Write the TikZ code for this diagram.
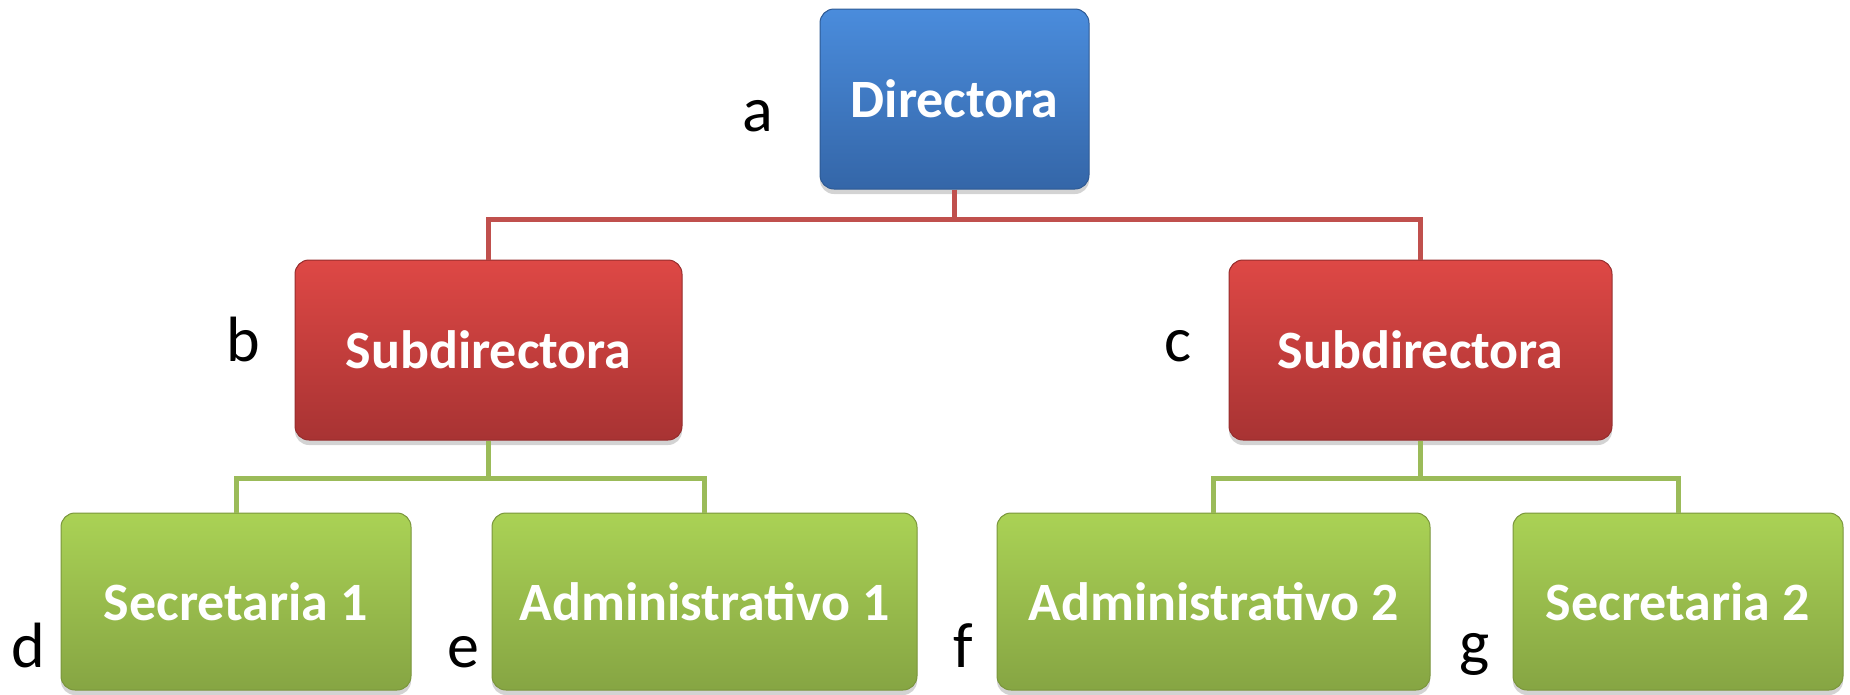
\documentclass[tikz,border=0pt]{standalone}
\usepackage{fontspec}
\setmainfont{Carlito}
\usetikzlibrary{shadows}
\definecolor{blueTop}{HTML}{4A8CDC}
\definecolor{blueBot}{HTML}{3466A8}
\definecolor{blueEdge}{HTML}{2E5A94}
\definecolor{redTop}{HTML}{DE4845}
\definecolor{redBot}{HTML}{A83333}
\definecolor{redEdge}{HTML}{962D2D}
\definecolor{greenTop}{HTML}{AAD255}
\definecolor{greenBot}{HTML}{86A543}
\definecolor{greenEdge}{HTML}{7A963C}
\definecolor{redLine}{HTML}{C0504D}
\definecolor{greenLine}{HTML}{9BBB59}
\tikzset{
  orgbox/.style={rounded corners=14pt, inner sep=0pt, text=white,
    font=\fontsize{54}{60}\selectfont\bfseries, line width=1pt,
    drop shadow={opacity=0.35, shadow xshift=0pt, shadow yshift=-5pt}},
  bluebox/.style={orgbox, top color=blueTop, bottom color=blueBot, draw=blueEdge},
  redbox/.style={orgbox, top color=redTop, bottom color=redBot, draw=redEdge},
  greenbox/.style={orgbox, top color=greenTop, bottom color=greenBot, draw=greenEdge},
  redconn/.style={draw=redLine, line width=5pt},
  greenconn/.style={draw=greenLine, line width=5pt},
  letter/.style={anchor=base, font=\fontsize{64}{70}\selectfont, text=black, inner sep=0pt}
}
\begin{document}
\begin{tikzpicture}[x=1pt,y=-1pt]
\useasboundingbox (0,0) rectangle (1850,694);
\node[bluebox, minimum width=269pt, minimum height=180pt] (a) at (954.5,99) {Directora};
\node[redbox, minimum width=387pt, minimum height=180pt] (b) at (488.5,350) {Subdirectora};
\node[redbox, minimum width=383pt, minimum height=180pt] (c) at (1420.5,350) {Subdirectora};
\node[greenbox, minimum width=350pt, minimum height=177pt] (d) at (236,601.5) {Secretaria 1};
\node[greenbox, minimum width=425pt, minimum height=177pt] (e) at (704.5,601.5) {Administrativo 1};
\node[greenbox, minimum width=433pt, minimum height=177pt] (f) at (1213.5,601.5) {Administrativo 2};
\node[greenbox, minimum width=330pt, minimum height=177pt] (g) at (1678,601.5) {Secretaria 2};
\draw[redconn] (a.south) -- ++(0,30) -| (b.north);
\draw[redconn] (a.south) -- ++(0,30) -| (c.north);
\draw[greenconn] (b.south) -- ++(0,38) -| (d.north);
\draw[greenconn] (b.south) -- ++(0,38) -| (e.north);
\draw[greenconn] (c.south) -- ++(0,38) -| (f.north);
\draw[greenconn] (c.south) -- ++(0,38) -| (g.north);
\node[letter] (la) at (758,131) {a};
\node[letter] (lb) at (243,361) {b};
\node[letter] (lc) at (1178,361) {c};
\node[letter] (ld) at (28,667) {d};
\node[letter] (le) at (463,667) {e};
\node[letter] (lf) at (963,667) {f};
\node[letter] (lg) at (1475,664) {g};
\end{tikzpicture}
\end{document}
